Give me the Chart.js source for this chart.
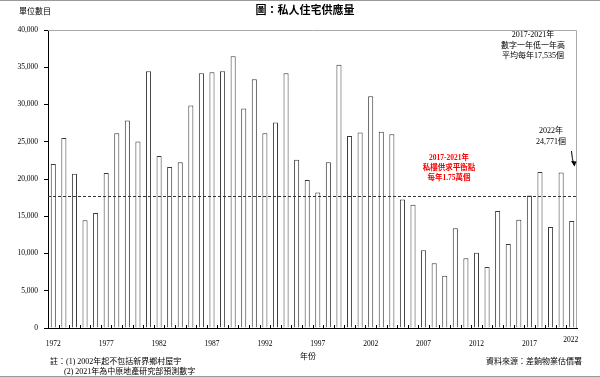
<!DOCTYPE html>
<html>
<head>
<meta charset="utf-8">
<script src="https://cdn.jsdelivr.net/npm/chart.js@4/dist/chart.umd.min.js"></script>
<style>
  html, body { margin: 0; padding: 0; background: #fff; }
  #c { display: block; }
</style>
</head>
<body>
<canvas id="c" width="600" height="377"></canvas>
<script>
// 私人住宅供應量 1972-2021
const years = Array.from({ length: 50 }, (_, i) => String(1972 + i))
const supply = [
  22000, 25500, 20700, 14450, 15450, 20800, 26150, 27850, 25050, 34450,
  23100, 21600, 22250, 29850, 34200, 34330, 34450, 36480, 29450, 33400,
  26150, 27600, 34200, 22600, 19850, 18200, 22250, 35350, 25780, 26230,
  31100, 26350, 26000, 17250, 16550, 10420, 8680, 7030, 13380, 9350,
  10100, 8200, 15700, 11270, 14530, 17800, 20950, 13550, 20870, 14350
]
const lastTickLabel = '2022'
const balanceLine = 17750
const yTicks = [0, 5000, 10000, 15000, 20000, 25000, 30000, 35000, 40000]

const serif = '"Liberation Serif", "Noto Sans CJK TC", serif'
const cjk = '"Liberation Serif", "Noto Sans CJK TC", sans-serif'

const decor = {
  id: 'decor',
  afterDraw(chart) {
    const { ctx, chartArea: a, scales } = chart
    const x = scales.x
    const y = scales.y
    ctx.save()

    // top / right frame
    ctx.strokeStyle = '#aaa'
    ctx.lineWidth = 1
    ctx.beginPath()
    ctx.moveTo(a.left, a.top + 0.5)
    ctx.lineTo(a.right - 0.5, a.top + 0.5)
    ctx.lineTo(a.right - 0.5, a.bottom)
    ctx.stroke()

    // small inward ticks between categories
    const step = (a.right - a.left) / years.length
    ctx.strokeStyle = '#000'
    ctx.beginPath()
    for (let i = 1; i < years.length; i++) {
      const px = Math.round(a.left + step * i) + 0.5
      ctx.moveTo(px, a.bottom)
      ctx.lineTo(px, a.bottom - 3)
    }
    ctx.stroke()

    // dashed balance line
    const ly = Math.round(y.getPixelForValue(balanceLine)) + 0.5
    ctx.setLineDash([3, 2])
    ctx.strokeStyle = '#333'
    ctx.beginPath()
    ctx.moveTo(a.left, ly)
    ctx.lineTo(a.right, ly)
    ctx.stroke()
    ctx.setLineDash([])

    // last x label, set a little lower as in the original
    ctx.fillStyle = '#000'
    ctx.textAlign = 'center'
    ctx.textBaseline = 'middle'
    ctx.font = '7.5px ' + serif
    ctx.fillText(lastTickLabel, x.getPixelForValue(years.length - 1) - 1, a.bottom + 12)

    // texts
    ctx.font = 'bold 11px ' + cjk
    ctx.fillText('圖：私人住宅供應量', 305, 11)

    ctx.textAlign = 'left'
    ctx.font = '8px ' + cjk
    ctx.fillText('單位數目', 19, 12)

    ctx.textAlign = 'center'
    ctx.font = '8px ' + cjk
    ctx.fillText('2017-2021年', 533, 35)
    ctx.fillText('數字一年低一年高', 533, 45.5)
    ctx.fillText('平均每年17,535個', 533, 56)

    ctx.fillText('2022年', 551, 131)
    ctx.fillText('24,771個', 551, 142)

    ctx.fillStyle = '#ff0000'
    ctx.font = 'bold 7.5px ' + cjk
    ctx.fillText('2017-2021年', 449, 158)
    ctx.fillText('私樓供求平衡點', 449, 168)
    ctx.fillText('每年1.75萬個', 449, 178)

    ctx.fillStyle = '#000'
    ctx.font = '8px ' + cjk
    ctx.fillText('年份', 308, 357)
    ctx.textAlign = 'left'
    ctx.fillText('註：(1) 2002年起不包括新界鄉村屋宇', 50, 362)
    ctx.fillText('(2) 2021年為中原地產研究部預測數字', 64, 372)
    ctx.textAlign = 'right'
    ctx.fillText('資料來源：差餉物業估價署', 582, 362)

    // arrow
    ctx.strokeStyle = '#000'
    ctx.beginPath()
    ctx.moveTo(571.5, 151)
    ctx.quadraticCurveTo(572, 159, 574, 165)
    ctx.stroke()
    ctx.beginPath()
    ctx.moveTo(574.5, 166.5)
    ctx.lineTo(571, 161)
    ctx.lineTo(576.5, 161.5)
    ctx.closePath()
    ctx.fill()

    // page frame lines
    ctx.strokeStyle = '#999'
    ctx.beginPath()
    ctx.moveTo(0, 0.5)
    ctx.lineTo(600, 0.5)
    ctx.moveTo(0, 376.5)
    ctx.lineTo(600, 376.5)
    ctx.stroke()

    ctx.restore()
  }
}

new Chart(document.getElementById('c'), {
  type: 'bar',
  data: {
    labels: years,
    datasets: [{
      data: supply,
      backgroundColor: '#fff',
      borderColor: '#3a3a3a',
      borderWidth: 1,
      barPercentage: 0.48,
      categoryPercentage: 1
    }]
  },
  options: {
    responsive: false,
    animation: false,
    layout: { padding: { top: 30, right: 23, left: 0, bottom: 0 } },
    plugins: { legend: { display: false }, tooltip: { enabled: false } },
    scales: {
      x: {
        grid: { display: false },
        border: { display: true, color: '#000' },
        ticks: {
          autoSkip: false,
          maxRotation: 0,
          padding: 4,
          color: '#000',
          font: { family: serif, size: 7.5 },
          callback: (v, i) => (i % 5 === 0 ? years[i] : '')
        },
        afterFit: (s) => { s.height = 49 }
      },
      y: {
        min: 0,
        max: 40000,
        afterBuildTicks: (s) => { s.ticks = yTicks.map((v) => ({ value: v })) },
        grid: { display: true, drawOnChartArea: false, drawTicks: true, tickLength: 4, color: '#000' },
        border: { display: true, color: '#000' },
        ticks: {
          padding: 6,
          color: '#000',
          font: { family: serif, size: 7.5 },
          callback: (v) => v.toLocaleString('en-US')
        },
        afterFit: (s) => { s.width = 48 }
      }
    }
  },
  plugins: [decor]
})
</script>
</body>
</html>
